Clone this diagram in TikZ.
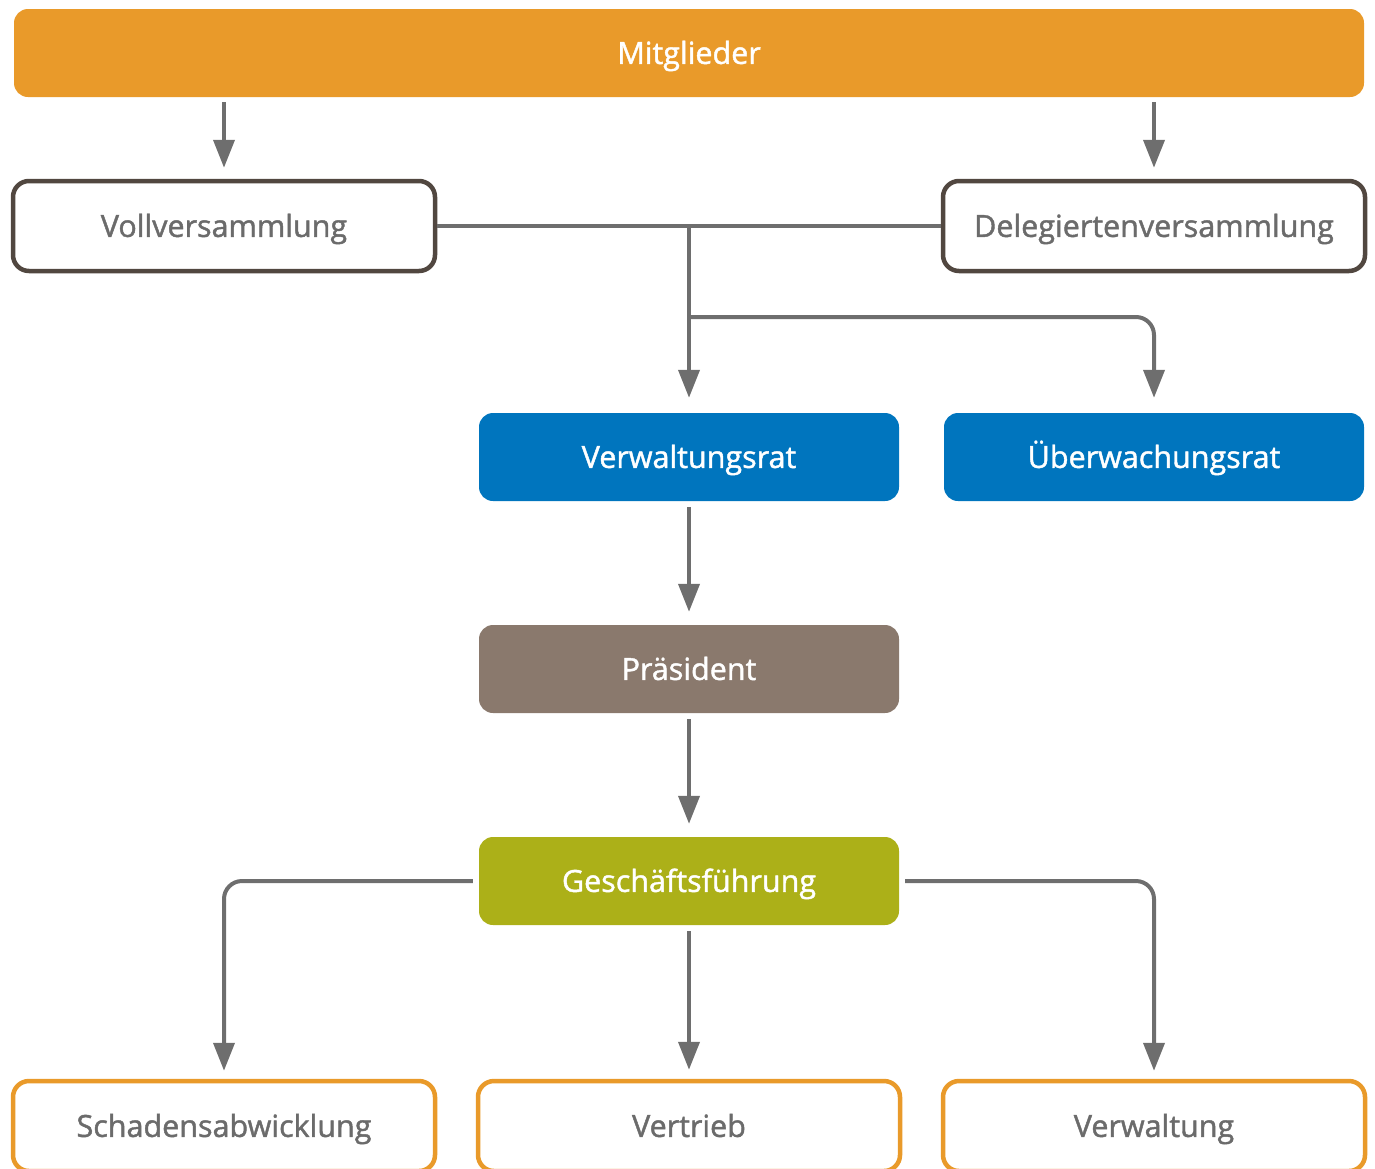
\documentclass[tikz,border=0pt]{standalone}
\usepackage{fontspec}
\setmainfont{Open Sans}
\newfontfamily\semib{Open Sans}[FakeBold=1.4]
\usetikzlibrary{arrows.meta}
\definecolor{orng}{HTML}{E99A2A}
\definecolor{brn}{HTML}{514740}
\definecolor{blu}{HTML}{0075BE}
\definecolor{taupe}{HTML}{8A796D}
\definecolor{olive}{HTML}{ACB018}
\definecolor{conngray}{HTML}{6E6E6E}
\definecolor{txtgray}{HTML}{6B6B6B}
\tikzset{
  txt/.style={font=\semib\fontsize{30.5}{36}\selectfont, text height=21.8pt, text depth=0pt},
  filledbox/.style={txt, rectangle, rounded corners=14pt, minimum width=420pt, minimum height=88pt, text=white, inner sep=0pt},
  outlinebox/.style={txt, rectangle, rounded corners=16pt, draw=#1, line width=4.5pt, fill=white, minimum width=422pt, minimum height=90pt, text=txtgray, inner sep=0pt},
  conn/.style={draw=conngray, line width=4pt},
  arr/.style={conn, -{Triangle[length=28pt,width=21pt]}},
}
\begin{document}
\begin{tikzpicture}[x=1pt,y=-1pt]
\useasboundingbox (0,0) rectangle (1375,1168);
% nodes
\node[filledbox, fill=orng, minimum width=1350pt] (mit) at (689,53) {Mitglieder};
\node[outlinebox=brn] (voll) at (224,226) {Vollversammlung};
\node[outlinebox=brn] (del) at (1154,226) {Delegiertenversammlung};
\node[filledbox, fill=blu] (vr) at (689,457) {Verwaltungsrat};
\node[filledbox, fill=blu] (ue) at (1154,457) {Überwachungsrat};
\node[filledbox, fill=taupe] (pr) at (689,669) {Präsident};
\node[filledbox, fill=olive] (gf) at (689,881) {Geschäftsführung};
\node[outlinebox=orng] (sch) at (224,1126) {Schadensabwicklung};
\node[outlinebox=orng] (ver) at (689,1126) {Vertrieb};
\node[outlinebox=orng] (vw) at (1154,1126) {Verwaltung};
% connectors
\draw[arr, shorten <=5pt, shorten >=11pt] (mit.south -| voll.north) -- (voll.north);
\draw[arr, shorten <=5pt, shorten >=11pt] (mit.south -| del.north) -- (del.north);
\draw[conn] (voll.east) -- (del.west);
\coordinate (j1) at (689,226);
\coordinate (j2) at (689,317);
\draw[arr, shorten >=15pt] (j1) -- (vr.north);
\draw[arr, rounded corners=18pt, shorten >=15pt] (j2) -| (ue.north);
\draw[arr, shorten <=6pt, shorten >=13pt] (vr.south) -- (pr.north);
\draw[arr, shorten <=6pt, shorten >=13pt] (pr.south) -- (gf.north);
\draw[arr, rounded corners=18pt, shorten <=6pt, shorten >=8pt] (gf.west) -| (sch.north);
\draw[arr, rounded corners=18pt, shorten <=6pt, shorten >=8pt] (gf.east) -| (vw.north);
\draw[arr, shorten <=6pt, shorten >=9pt] (gf.south) -- (ver.north);
\end{tikzpicture}
\end{document}
